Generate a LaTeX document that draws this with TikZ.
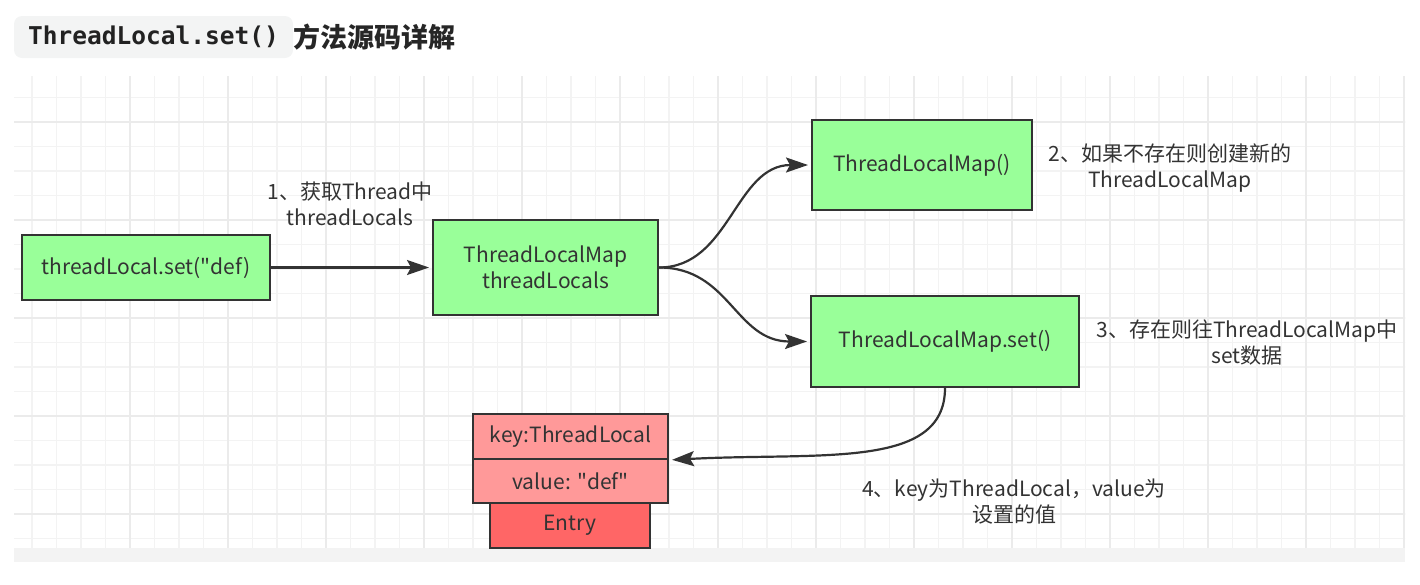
\documentclass[tikz,border=0pt]{standalone}
\usepackage{fontspec}
\setmainfont{Noto Sans CJK SC}
\newfontfamily\codefont{DejaVu Sans Mono}
\usetikzlibrary{arrows.meta}
\definecolor{ink}{HTML}{333333}
\definecolor{mapgreen}{HTML}{99FF99}
\definecolor{keypink}{HTML}{FF9999}
\definecolor{entryred}{HTML}{FF6666}
\definecolor{gridminor}{HTML}{F3F3F3}
\definecolor{gridmajor}{HTML}{EBEBEB}
\definecolor{codebg}{HTML}{F3F4F4}
\begin{document}
\begin{tikzpicture}[x=1pt,y=-1pt,
  box/.style={draw=ink,line width=2pt,fill=mapgreen,text=ink,font=\fontsize{21}{26}\selectfont,align=center,inner sep=0pt},
  keybox/.style={box,fill=keypink},
  entrybox/.style={box,fill=entryred},
  lab/.style={text=ink,font=\fontsize{21}{26}\selectfont,align=center,inner sep=0pt},
  link/.style={draw=ink,line width=2.2pt,-{Stealth[length=22pt,width=15pt,inset=4pt]},shorten >=3pt}]
\useasboundingbox (0,0) rectangle (1420,584);
% title
\node[fill=codebg,rounded corners=8pt,minimum width=279pt,minimum height=42pt,inner sep=0pt] (code) at (153.5,37)
  {\codefont\bfseries\fontsize{24.5}{26}\selectfont\color[HTML]{222222}ThreadLocal.set()};
\node[anchor=west,inner sep=0pt,font=\bfseries\fontsize{27}{30}\selectfont,text=black!85] (title) at (code.east) {方法源码详解};
% grid
\begin{scope}
\clip (14,76) rectangle (1405,548);
\foreach \x in {32,56.5,...,1410} \draw[gridminor,line width=1.4pt] (\x,70) -- (\x,550);
\foreach \y in {97.5,122,...,550} \draw[gridminor,line width=1.4pt] (10,\y) -- (1410,\y);
\foreach \x in {130,228,...,1410} \draw[gridmajor,line width=1.6pt] (\x,70) -- (\x,550);
\foreach \y in {122,220,...,550} \draw[gridmajor,line width=1.6pt] (10,\y) -- (1410,\y);
\end{scope}
\fill[gridminor] (14,548) rectangle (1405,562);
% boxes
\node[box,minimum width=248pt,minimum height=65pt] (call) at (146,267.5) {threadLocal.set(\textquotedbl def)};
\node[box,minimum width=225pt,minimum height=95pt] (tlm) at (545.5,267.5) {ThreadLocalMap\\threadLocals};
\node[box,minimum width=220pt,minimum height=90pt] (newmap) at (922,165) {ThreadLocalMap()};
\node[box,minimum width=268pt,minimum height=91pt] (mapset) at (945,341.5) {ThreadLocalMap.set()};
\node[keybox,minimum width=195pt,minimum height=45pt] (key) at (570.5,436.5) {key:ThreadLocal};
\node[keybox,minimum width=195pt,minimum height=44pt] (val) at (570.5,481) {value: \textquotedbl def\textquotedbl};
\node[entrybox,minimum width=160pt,minimum height=45pt] (entry) at (570,525.5) {Entry};
% labels
\node[lab] (lab1) at (350,203.5) {1、获取Thread中\\threadLocals};
\node[lab] (lab2) at (1170,168) {2、如果不存在则创建新的\\ThreadLocalMap};
\node[lab] (lab3) at (1247,343) {3、存在则往ThreadLocalMap中\\set数据};
\node[lab] (lab4) at (1014,502) {4、key为ThreadLocal，value为\\设置的值};
% arrows
\draw[link] (call.east) -- (tlm.west);
\draw[link] (tlm.east) .. controls (730,267.5) and (735,165) .. (newmap.west);
\draw[link] (tlm.east) .. controls (730,267.5) and (735,341.5) .. (mapset.west);
\draw[link] (mapset.south) .. controls (945,470) and (820,452) .. (key.south east);
\end{tikzpicture}
\end{document}
